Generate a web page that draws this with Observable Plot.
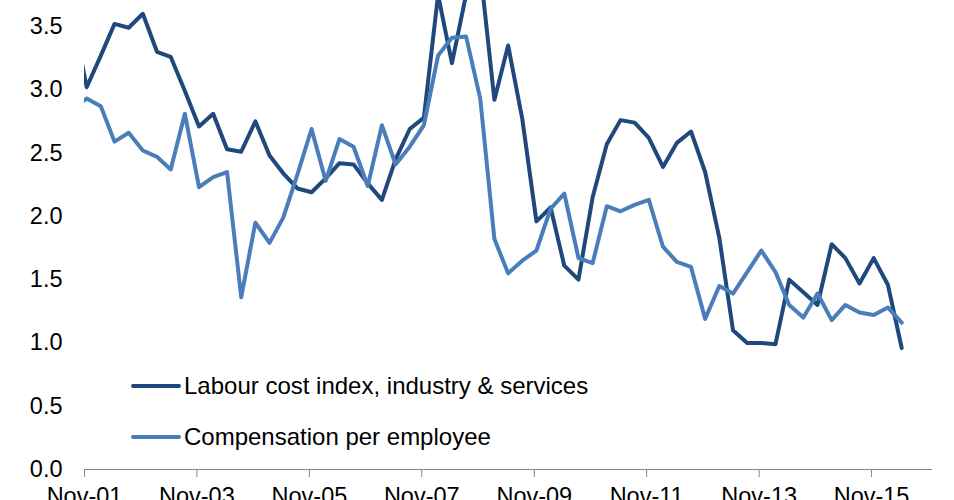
<!DOCTYPE html>
<html>
<head>
<meta charset="utf-8">
<script src="https://cdn.jsdelivr.net/npm/d3@7"></script>
<script src="https://cdn.jsdelivr.net/npm/@observablehq/plot@0.6"></script>
<style>
  html, body { margin: 0; padding: 0; background: #fff; overflow: hidden; }
  #wrap { position: relative; width: 954px; height: 500px; overflow: hidden; font-family: "Liberation Sans", Arial, sans-serif; }
  #legend { position: absolute; left: 131px; top: 368px; font-size: 24px; color: #000; }
  .item { display: flex; align-items: center; height: 36px; margin-bottom: 15px; }
  .item svg { margin-right: 3px; }
</style>
</head>
<body>
<div id="wrap">
  <div id="chart"></div>
  <div id="legend"></div>
</div>
<script>
// Series names
const seriesNames = ["Labour cost index, industry & services", "Compensation per employee"];
const seriesColors = ["#1F497D", "#4A7EBB"];

// Quarterly observations; first value (Aug-01) lies just left of the plotted range
const labourCost = [3.6,
  3.02, 3.27, 3.52, 3.49, 3.60, 3.30, 3.26, 2.99, 2.71, 2.81,
  2.53, 2.51, 2.75, 2.48, 2.34, 2.22, 2.19, 2.30, 2.42, 2.41,
  2.26, 2.13, 2.45, 2.69, 2.78, 3.75, 3.21, 3.75, 3.95, 2.92,
  3.35, 2.77, 1.96, 2.07, 1.61, 1.50, 2.15, 2.57, 2.76, 2.74,
  2.62, 2.39, 2.58, 2.67, 2.35, 1.83, 1.10, 1.00, 1.00, 0.99,
  1.50, 1.40, 1.30, 1.78, 1.67, 1.47, 1.67, 1.46, 0.96];
const compensation = [2.85,
  2.93, 2.87, 2.59, 2.66, 2.52, 2.47, 2.37, 2.81, 2.23, 2.31,
  2.35, 1.36, 1.95, 1.79, 1.99, 2.33, 2.69, 2.28, 2.61, 2.55,
  2.24, 2.72, 2.41, 2.55, 2.72, 3.27, 3.41, 3.42, 2.93, 1.82,
  1.55, 1.65, 1.73, 2.06, 2.18, 1.67, 1.63, 2.08, 2.04, 2.09,
  2.13, 1.76, 1.64, 1.60, 1.19, 1.45, 1.39, 1.56, 1.73, 1.56,
  1.30, 1.20, 1.39, 1.18, 1.30, 1.24, 1.22, 1.28, 1.16];

// First observation date and tick labels
const firstObs = new Date(Date.UTC(2001, 7, 15));
const tickLabels = ["Nov-01", "Nov-03", "Nov-05", "Nov-07", "Nov-09", "Nov-11", "Nov-13", "Nov-15"];
const yTicks = [0, 0.5, 1.0, 1.5, 2.0, 2.5, 3.0, 3.5];

const dateOf = i => d3.utcMonth.offset(firstObs, 3 * i);
const parseLabel = s => new Date(Date.UTC(2000 + +s.slice(4), 10, 1));
const tickDates = tickLabels.map(parseLabel);

const rows = [];
[labourCost, compensation].forEach((arr, s) => {
  arr.forEach((v, i) => rows.push({date: dateOf(i), value: v, series: seriesNames[s]}));
});

const chart = Plot.plot({
  width: 954,
  height: 500,
  marginLeft: 84,
  marginRight: 22,
  marginTop: 0,
  marginBottom: 31,
  style: {fontFamily: "Liberation Sans, Arial, sans-serif", fontSize: "23.5px", color: "#000", background: "#fff", overflow: "hidden"},
  x: {type: "utc", domain: [new Date(Date.UTC(2001, 10, 1)), new Date(Date.UTC(2016, 11, 1))]},
  y: {domain: [0, 3.705]},
  color: {domain: seriesNames, range: seriesColors},
  marks: [
    Plot.axisY({ticks: yTicks, tickFormat: d3.format(".1f"), tickSize: 0, tickPadding: 22, fontSize: 23.5, label: null}),
    Plot.axisX({ticks: tickDates, tickFormat: d => tickLabels[tickDates.findIndex(t => +t === +d)], tickSize: 8, tickPadding: 10, fontSize: 23.5, stroke: "#888", label: null}),
    Plot.ruleY([0], {stroke: "#888", strokeWidth: 1.2}),
    Plot.line(rows, {x: "date", y: "value", z: "series", stroke: "series", strokeWidth: 4, strokeLinejoin: "round", strokeLinecap: "round", clip: true})
  ]
});
document.getElementById("chart").appendChild(chart);

const legend = document.getElementById("legend");
seriesNames.forEach((name, i) => {
  const item = document.createElement("div");
  item.className = "item";
  item.innerHTML = `<svg width="50" height="8"><line x1="2" x2="48" y1="4" y2="4" stroke="${seriesColors[i]}" stroke-width="4" stroke-linecap="round"/></svg><span></span>`;
  item.querySelector("span").textContent = name;
  legend.appendChild(item);
});
</script>
</body>
</html>
